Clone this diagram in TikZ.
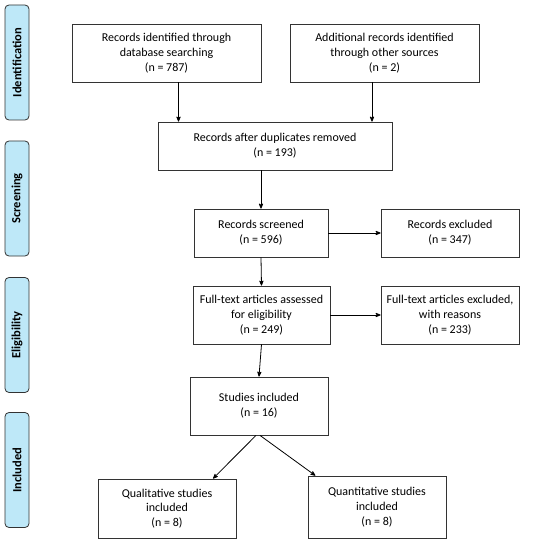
\documentclass[tikz,border=0pt]{standalone}
\usepackage{fontspec}
\setmainfont{Carlito}
\usetikzlibrary{arrows}
\usetikzlibrary{backgrounds}
\definecolor{phaseblue}{RGB}{190,232,248}

\begin{document}
\begin{tikzpicture}[->,>=stealth',x=1pt, y=-1pt, line width=0.8pt, background rectangle/.style={fill=white}, show background rectangle]
\tikzset{box/.style={draw=black!80,thick,-,rectangle,align=center,inner sep=2pt,font=\fontsize{12}{14.8}\selectfont,minimum width=#1},
  phase/.style={draw=black!80,thick,-,fill=phaseblue,rounded corners=4pt,rotate=90,minimum width=115,minimum height=24,font=\bfseries\fontsize{12.5}{14}\selectfont}}
\useasboundingbox (0,0) rectangle (550,543);

% phases on the left
\node[phase] (ident) at (17,62.5) {Identification};
\node[phase] (screen) at (17,198.5) {Screening};
\node[phase] (elig) at (17,335) {Eligibility};
\node[phase] (incl) at (17,470) {Included};

% records
\node[box=189,minimum height=58] (db) at (166.5,53) {Records identified through\\database searching\\(n = 787)};
\node[box=189,minimum height=58] (add) at (384.5,53) {Additional records identified\\through other sources\\(n = 2)};
\node[box=234,minimum height=48] (dup) at (275,146) {Records after duplicates removed\\(n = 193)};
\node[box=134,minimum height=48] (scr) at (261,233) {Records screened\\(n = 596)};
\node[box=138,minimum height=48] (exc) at (450,233) {Records excluded\\(n = 347)};
\node[box=137,minimum height=58] (ft) at (261.5,315) {Full-text articles assessed\\for eligibility\\(n = 249)};
\node[box=138,minimum height=58] (ftx) at (450,315) {Full-text articles excluded,\\with reasons\\(n = 233)};
\node[box=138,minimum height=58] (inc) at (259,406) {Studies included\\(n = 16)};
\node[box=138,minimum height=59] (qual) at (167,508.5) {Qualitative studies\\included\\(n = 8)};
\node[box=138,minimum height=62] (quant) at (377,507) {Quantitative studies\\included\\(n = 8)};

% arrows
\coordinate (dbout) at ([xshift=12pt]db.south);
\coordinate (addout) at ([xshift=-12.5pt]add.south);
\draw (dbout) -- (dbout |- dup.north);
\draw (addout) -- (addout |- dup.north);
\draw (scr.north |- dup.south) -- (scr.north);
\draw (scr.east) -- (exc.west);
\draw (scr.south) -- (ft.north);
\draw (ft.east) -- (ftx.west);
\draw (ft.south) -- (inc.north);
\draw ([xshift=-3pt]inc.south) -- (qual.33);
\draw ([xshift=1pt]inc.south) -- (quant.153);

\end{tikzpicture}
\end{document}
